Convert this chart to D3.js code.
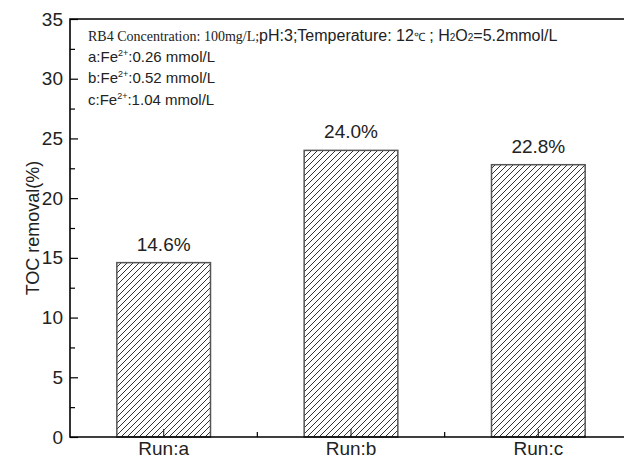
<!DOCTYPE html>
<html>
<head>
<meta charset="utf-8">
<script src="https://cdn.jsdelivr.net/npm/d3@7"></script>
<style>
  html, body { margin: 0; padding: 0; background: #fff; }
  svg { display: block; }
</style>
</head>
<body>
<svg id="chart" width="624" height="461"></svg>
<script>
// ---- data ----
const categories = ["Run:a", "Run:b", "Run:c"];
const tocRemoval = [14.6, 24.0, 22.8];
const valueLabels = ["14.6%", "24.0%", "22.8%"];
const yTickValues = [0, 5, 10, 15, 20, 25, 30, 35];
const yMinorTickValues = [2.5, 7.5, 12.5, 17.5, 22.5, 27.5, 32.5];
const yTitle = "TOC removal(%)";
const runConditions = [
  { run: "a", fe: "0.26 mmol/L" },
  { run: "b", fe: "0.52 mmol/L" },
  { run: "c", fe: "1.04 mmol/L" }
];

(function () {
// ---- layout ----
const svg = d3.select("#chart");
const mLeft = 70, mTop = 19, mBottom = 437, mRight = 632;
const sans = "'Liberation Sans', Arial, sans-serif";
const serif = "'Liberation Serif', 'Times New Roman', serif";

const x = d3.scaleBand().domain(categories).range([mLeft, mRight])
  .paddingInner(0.5).paddingOuter(0.25);
const y = d3.scaleLinear().domain([0, 35]).range([mBottom, mTop]);

// hatch pattern
const defs = svg.append("defs");
const pat = defs.append("pattern")
  .attr("id", "hatch").attr("patternUnits", "userSpaceOnUse")
  .attr("width", 6).attr("height", 6);
pat.append("rect").attr("width", 6).attr("height", 6).attr("fill", "#fff");
pat.append("path")
  .attr("d", "M-1,1 l2,-2 M0,6 l6,-6 M5,7 l2,-2")
  .attr("stroke", "#333").attr("stroke-width", 1);

// bars
svg.append("g").selectAll("rect").data(categories).join("rect")
  .attr("x", d => x(d))
  .attr("y", (d, i) => y(tocRemoval[i]))
  .attr("width", x.bandwidth())
  .attr("height", (d, i) => y(0) - y(tocRemoval[i]))
  .attr("fill", "url(#hatch)")
  .attr("stroke", "#555").attr("stroke-width", 1.5);

// value labels
svg.append("g").selectAll("text").data(categories).join("text")
  .attr("x", d => x(d) + x.bandwidth() / 2)
  .attr("y", (d, i) => y(tocRemoval[i]) - 12)
  .attr("text-anchor", "middle")
  .attr("font-family", sans).attr("font-size", 19).attr("fill", "#222")
  .text((d, i) => valueLabels[i]);

// y axis major
const yAxis = d3.axisLeft(y).tickValues(yTickValues).tickSize(-8).tickPadding(7);
const gy = svg.append("g").attr("transform", `translate(${mLeft},0)`).call(yAxis);
gy.select(".domain").remove();
gy.selectAll("line").attr("stroke", "#000").attr("stroke-width", 1.2);
gy.selectAll("text").attr("font-family", sans).attr("font-size", 19).attr("fill", "#222");
// y axis minor
const gym = svg.append("g").attr("transform", `translate(${mLeft},0)`)
  .call(d3.axisLeft(y).tickValues(yMinorTickValues).tickSize(-5).tickFormat(""));
gym.select(".domain").remove();
gym.selectAll("line").attr("stroke", "#000").attr("stroke-width", 1.2);

// x axis major (at band centres)
const xAxis = d3.axisBottom(x).tickSize(-8).tickPadding(5);
const gx = svg.append("g").attr("transform", `translate(0,${mBottom})`).call(xAxis);
gx.select(".domain").remove();
gx.selectAll("line").attr("stroke", "#333").attr("stroke-width", 1.2);
gx.selectAll("text").attr("font-family", sans).attr("font-size", 19).attr("fill", "#222");
// x minor ticks at category boundaries
svg.append("g").selectAll("line").data(categories.slice(0, -1)).join("line")
  .attr("x1", d => x(d) + x.bandwidth() / 2 + x.step() / 2)
  .attr("x2", d => x(d) + x.bandwidth() / 2 + x.step() / 2)
  .attr("y1", mBottom).attr("y2", mBottom - 5)
  .attr("stroke", "#000").attr("stroke-width", 1.2);

// frame
svg.append("path")
  .attr("d", `M${mRight},${mTop} H${mLeft} V${mBottom} H${mRight}`)
  .attr("fill", "none").attr("stroke", "#000").attr("stroke-width", 1.6);

// y title
svg.append("text")
  .attr("transform", `translate(39,${(mTop + mBottom) / 2}) rotate(-90)`)
  .attr("text-anchor", "middle")
  .attr("font-family", sans).attr("font-size", 18).attr("fill", "#222")
  .text(yTitle);

// annotation
const ann = svg.append("g").attr("fill", "#222");
const l1 = ann.append("text").attr("x", 88).attr("y", 41).attr("font-size", 16);
l1.append("tspan").attr("font-family", serif).attr("font-size", 14).text("RB4 Concentration: 100mg/L;");
l1.append("tspan").attr("font-family", sans).text("pH:3;Temperature: 12");
l1.append("tspan").attr("font-family", sans).attr("font-size", 11.5).text("℃");
l1.append("tspan").attr("font-family", sans).text(" ; H");
l1.append("tspan").attr("font-family", sans).attr("font-size", 10).text("2");
l1.append("tspan").attr("font-family", sans).text("O");
l1.append("tspan").attr("font-family", sans).attr("font-size", 10).text("2");
l1.append("tspan").attr("font-family", sans).text("=5.2mmol/L");

const lineYs = [62, 83, 104.5];
ann.selectAll("text.fe").data(runConditions).join("text")
  .attr("class", "fe")
  .attr("x", 88).attr("y", (d, i) => lineYs[i])
  .attr("font-family", sans).attr("font-size", 15)
  .each(function (d) {
    const t = d3.select(this);
    t.append("tspan").text(d.run + ":Fe");
    t.append("tspan").attr("font-size", 9).attr("dy", -6).text("2+");
    t.append("tspan").attr("dy", 6).text(":" + d.fe);
  });
})();
</script>
</body>
</html>
